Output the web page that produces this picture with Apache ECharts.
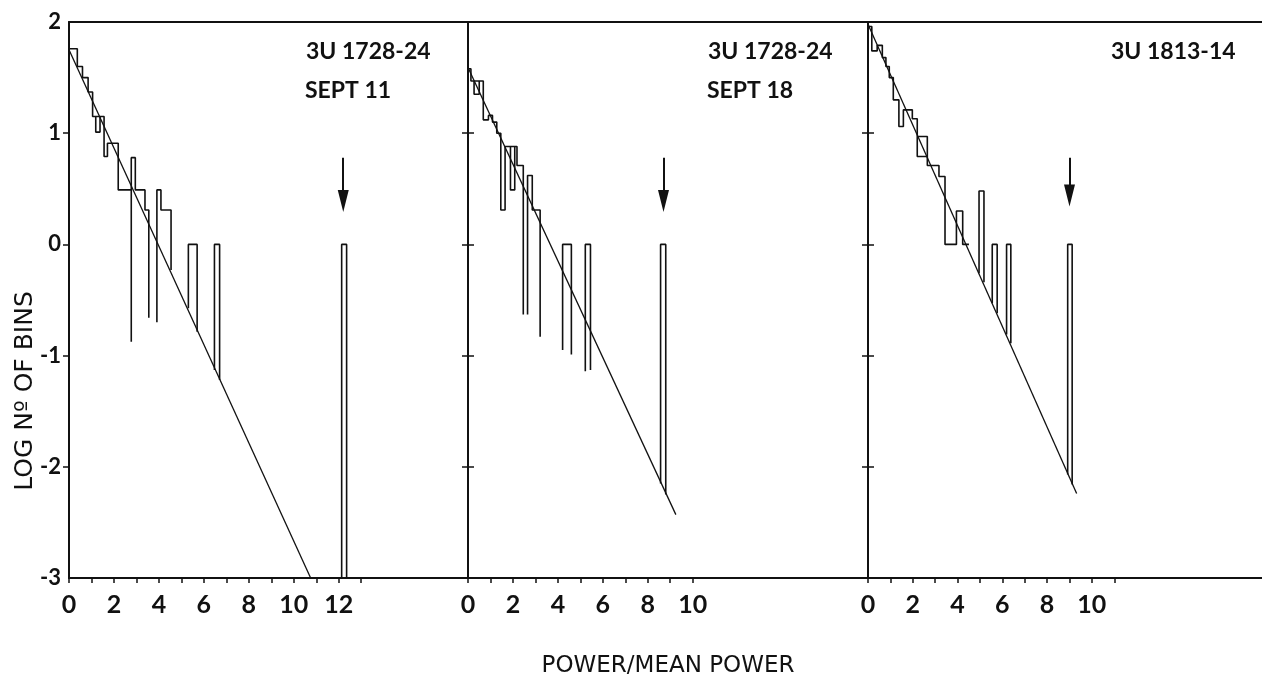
<!DOCTYPE html>
<html>
<head>
<meta charset="utf-8">
<script src="https://cdn.jsdelivr.net/npm/echarts@6.0.0/dist/echarts.min.js"></script>
<style>
  html, body { margin: 0; padding: 0; background: #fff; }
  #chart { width: 1262px; height: 683px; }
</style>
</head>
<body>
<div id="chart"></div>
<script>
// y axis: log number of bins
const yLabels = [2, 1, 0, -1, -2, -3];
const yTicks = [-2, -1, 0, 1];

// x axis ticks / labels per panel (power / mean power)
const xTicks1 = [0, 1, 2, 3, 4, 5, 6, 7, 8, 9, 10, 11, 12, 13];
const xLabels1 = [0, 2, 4, 6, 8, 10, 12];
const xTicks2 = [0, 1, 2, 3, 4, 5, 6, 7, 8, 9, 10];
const xLabels2 = [0, 2, 4, 6, 8, 10];
const xTicks3 = [0, 1, 2, 3, 4, 5, 6, 7, 8, 9, 10, 11];
const xLabels3 = [0, 2, 4, 6, 8, 10];

// source names and dates
const sources = ["3U 1728-24", "3U 1728-24", "3U 1813-14"];
const dates = ["SEPT 11", "SEPT 18", ""];

// histogram outlines, one list of [power, log N] per drawn stroke
const hist1 = [
    [[0, 1.76], [0.37, 1.76], [0.37, 1.6], [0.6, 1.6], [0.6, 1.5], [0.85, 1.5], [0.85, 1.37],
     [1.05, 1.37], [1.05, 1.15], [1.19, 1.15], [1.19, 1.01], [1.38, 1.01], [1.38, 1.15], [1.19, 1.15],
     [1.56, 1.15], [1.56, 0.79], [1.71, 0.79], [1.71, 0.91], [2.19, 0.91], [2.19, 0.49], [2.77, 0.49],
     [2.77, -0.875], [2.77, 0.78], [2.95, 0.78], [2.95, 0.49], [3.38, 0.49], [3.38, 0.31],
     [3.55, 0.31], [3.55, -0.66]],
    [[3.91, -0.7], [3.91, 0.49], [4.09, 0.49], [4.09, 0.31], [4.54, 0.31], [4.54, -0.23]],
    [[5.31, -0.575], [5.31, 0], [5.7, 0], [5.7, -0.785]],
    [[6.47, -1.13], [6.47, 0], [6.7, 0], [6.7, -1.22]],
    [[12.13, -3], [12.13, 0], [12.35, 0], [12.35, -3]]
];
const hist2 = [
    [[0, 1.58], [0.13, 1.58], [0.13, 1.47], [0.5, 1.47], [0.5, 1.35], [0.27, 1.35], [0.27, 1.47],
     [0.68, 1.47], [0.68, 1.12], [0.91, 1.12], [0.91, 1.16], [1.09, 1.16], [1.09, 1.1], [1.28, 1.1],
     [1.28, 1.0], [1.46, 1.0], [1.46, 0.31], [1.65, 0.31], [1.65, 0.88], [2.08, 0.88], [2.08, 0.49],
     [1.89, 0.49], [1.89, 0.88], [2.08, 0.88], [2.18, 0.88], [2.18, 0.71], [2.46, 0.71], [2.46, -0.63]],
    [[2.65, -0.63], [2.65, 0.62], [2.86, 0.62], [2.86, 0.31], [3.21, 0.31], [3.21, -0.83]],
    [[4.21, -0.95], [4.21, 0], [4.6, 0], [4.6, -0.99]],
    [[5.22, -1.14], [5.22, 0], [5.45, 0], [5.45, -1.13]],
    [[8.57, -2.15], [8.57, 0], [8.8, 0], [8.8, -2.25]]
];
const hist3 = [
    [[0, 1.96], [0.17, 1.96], [0.17, 1.74], [0.41, 1.74], [0.41, 1.79], [0.64, 1.79], [0.64, 1.68],
     [0.8, 1.68], [0.8, 1.6], [0.95, 1.6], [0.95, 1.5], [1.13, 1.5], [1.13, 1.3], [1.38, 1.3],
     [1.38, 1.06], [1.58, 1.06], [1.58, 1.21], [1.98, 1.21], [1.98, 1.13], [2.2, 1.13], [2.2, 0.79],
     [2.65, 0.79], [2.65, 0.97], [2.2, 0.97], [2.65, 0.97], [2.65, 0.71], [3.17, 0.71], [3.17, 0.61],
     [3.44, 0.61], [3.44, 0], [3.95, 0], [3.95, 0.3], [4.23, 0.3], [4.23, 0], [4.51, 0]],
    [[4.96, -0.26], [4.96, 0.48], [5.18, 0.48], [5.18, -0.34]],
    [[5.55, -0.53], [5.55, 0], [5.77, 0], [5.77, -0.62]],
    [[6.19, -0.81], [6.19, 0], [6.38, 0], [6.38, -0.89]],
    [[8.92, -2.07], [8.92, 0], [9.12, 0], [9.12, -2.16]]
];

// fitted exponential (straight in log)
const fit1 = [[0, 1.75], [10.75, -3]];
const fit2 = [[0, 1.59], [9.25, -2.43]];
const fit3 = [[0, 1.98], [9.32, -2.24]];

// arrows marking the pulse candidate
const arrowX = [12.2, 8.7, 9.0];
const arrowTop = [0.78, 0.78, 0.78];
const arrowHead = [0.39, 0.39, 0.44];

const ink = "#111";
const font = "Lato";
const titleFont = "DejaVu Sans";

const panels = [
    { left: 69, width: 399, max: 17.75, ticks: xTicks1, labels: xLabels1, hist: hist1, fit: fit1 },
    { left: 468, width: 400, max: 17.8, ticks: xTicks2, labels: xLabels2, hist: hist2, fit: fit2 },
    { left: 868, width: 394, max: 17.6, ticks: xTicks3, labels: xLabels3, hist: hist3, fit: fit3 }
];

const chart = echarts.init(document.getElementById("chart"));

const grids = [];
const xAxes = [];
const yAxes = [];
const series = [];
const axisLine = { show: true, onZero: false, lineStyle: { color: ink, width: 2 } };

panels.forEach((p, i) => {
    grids.push({ left: p.left, top: 22, width: p.width, height: 556 });
    xAxes.push({
        type: "value", gridIndex: i, min: 0, max: p.max, position: "bottom",
        axisLine: axisLine,
        axisTick: { show: true, customValues: p.ticks, length: 5, lineStyle: { color: ink, width: 1.5 } },
        axisLabel: {
            customValues: p.labels, margin: 14, color: ink,
            fontSize: 25, fontWeight: "bold", fontFamily: font
        },
        splitLine: { show: false },
        name: i == 1 ? "POWER/MEAN POWER" : "",
        nameLocation: "middle",
        nameGap: 77,
        nameTextStyle: { color: ink, fontSize: 23, fontFamily: titleFont }
    });
});
panels.forEach((p, i) => {
    xAxes.push({
        type: "value", gridIndex: i, min: 0, max: p.max, position: "top",
        axisLine: axisLine, axisTick: { show: false }, axisLabel: { show: false },
        splitLine: { show: false }
    });
});

// left axis of panel 1 carries the labels
yAxes.push({
    type: "value", gridIndex: 0, min: -3, max: 2, interval: 1, position: "left",
    axisLine: axisLine,
    axisTick: { show: true, customValues: yTicks, length: 6, lineStyle: { color: ink, width: 1.5 } },
    axisLabel: {
        customValues: yLabels, margin: 8, color: ink,
        fontSize: 22, fontWeight: "bold", fontFamily: font
    },
    splitLine: { show: false }
});
// panel borders, ticks crossing both ways
const borders = [[0, "right"], [1, "left"], [1, "right"], [2, "left"], [2, "left"]];
borders.forEach(([g, pos], k) => {
    yAxes.push({
        type: "value", gridIndex: g, min: -3, max: 2, interval: 1, position: pos,
        axisLine: axisLine,
        axisTick: {
            show: true, inside: k != 4, customValues: yTicks, length: 6,
            lineStyle: { color: ink, width: 1.5 }
        },
        axisLabel: { show: false },
        splitLine: { show: false }
    });
});
const yIndex = [0, 2, 4];

panels.forEach((p, i) => {
    p.hist.forEach(seg => {
        series.push({
            type: "line", xAxisIndex: i, yAxisIndex: yIndex[i], data: seg,
            showSymbol: false, silent: true, clip: false,
            lineStyle: { color: ink, width: 1.6 }
        });
    });
    series.push({
        type: "line", xAxisIndex: i, yAxisIndex: yIndex[i], data: p.fit,
        showSymbol: false, silent: true,
        lineStyle: { color: ink, width: 1.3 },
        markLine: {
            silent: true,
            symbol: ["none", "triangle"],
            symbolSize: [11, 22],
            label: { show: false },
            lineStyle: { color: ink, width: 2, type: "solid" },
            itemStyle: { color: ink },
            data: [[{ coord: [arrowX[i], arrowTop[i]] }, { coord: [arrowX[i], arrowHead[i]] }]]
        }
    });
});

const textStyle = { fill: ink, fontSize: 23, fontFamily: font, fontWeight: "bold" };
const annoLeft = [306, 708, 1111];
const graphics = [{
    type: "text", x: 25, y: 391, rotation: Math.PI / 2,
    style: { text: "LOG Nº OF BINS", fill: ink, fontSize: 25, fontFamily: titleFont, align: "center", verticalAlign: "middle" }
}];
sources.forEach((s, i) => {
    graphics.push({ type: "text", x: annoLeft[i], y: 52, style: Object.assign({ text: s, verticalAlign: "middle" }, textStyle) });
    if (dates[i]) {
        graphics.push({ type: "text", x: annoLeft[i] - 1, y: 91, style: Object.assign({ text: dates[i], verticalAlign: "middle" }, textStyle) });
    }
});

chart.setOption({
    animation: false,
    backgroundColor: "#fff",
    grid: grids,
    xAxis: xAxes,
    yAxis: yAxes,
    series: series,
    graphic: graphics
});
</script>
</body>
</html>
